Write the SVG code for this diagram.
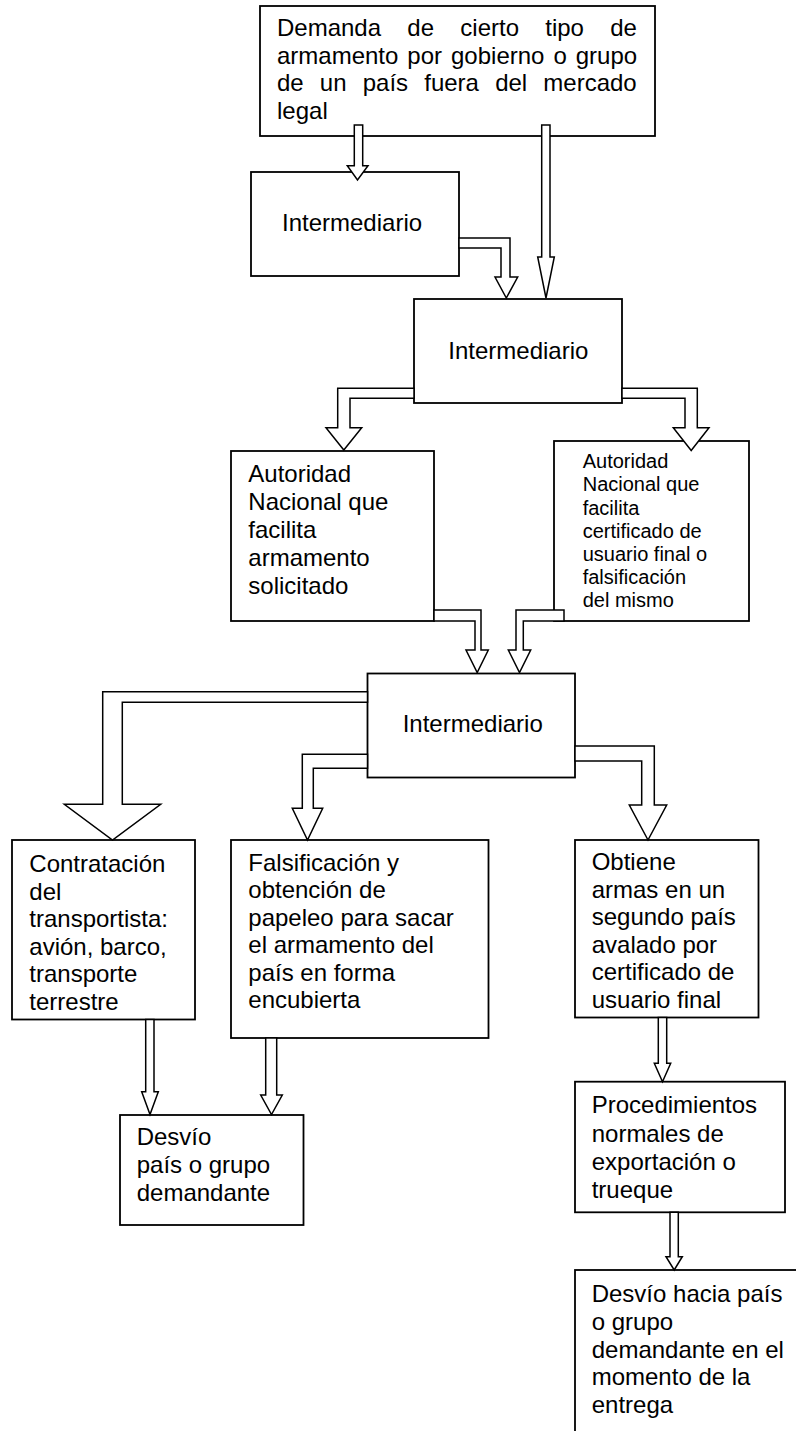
<svg xmlns="http://www.w3.org/2000/svg" width="796" height="1431" viewBox="0 0 796 1431">
<style>
.box{fill:#fff;stroke:#000;stroke-width:1.8}
.arr{fill:#fff;stroke:#000;stroke-width:1.5;stroke-linejoin:miter}
.t{font-family:"Liberation Sans",Arial,sans-serif;font-size:24px;fill:#000}
.ts{font-size:20px}
</style>
<rect width="796" height="1431" fill="#fff"/>
<g id="n-demanda">
<rect class="box" x="260" y="6" width="395" height="130"/>
<text class="t" x="277" y="36" word-spacing="19.6">Demanda de cierto tipo de</text>
<text class="t" x="277" y="63.5" word-spacing="2.3">armamento por gobierno o grupo</text>
<text class="t" x="277" y="91" word-spacing="9.5">de un país fuera del mercado</text>
<text class="t" x="277" y="118.5">legal</text>
</g>
<g id="n-intermediario1">
<rect class="box" x="251" y="172" width="208" height="104"/>
<text class="t" x="282" y="231">Intermediario</text>
</g>
<g id="n-intermediario2">
<rect class="box" x="414" y="299" width="208" height="104"/>
<text class="t" x="448.3" y="359">Intermediario</text>
</g>
<g id="n-autoridad1">
<rect class="box" x="231" y="451" width="203" height="170"/>
<text class="t"><tspan x="248.3" y="481.7">Autoridad</tspan><tspan x="248.3" y="509.8">Nacional que</tspan><tspan x="248.3" y="537.9">facilita</tspan><tspan x="248.3" y="566">armamento</tspan><tspan x="248.3" y="594.1">solicitado</tspan></text>
</g>
<g id="n-autoridad2">
<rect class="box" x="554" y="441" width="195" height="180"/>
<text class="t ts"><tspan x="582.7" y="468.3">Autoridad</tspan><tspan x="582.7" y="491.4">Nacional que</tspan><tspan x="582.7" y="514.5">facilita</tspan><tspan x="582.7" y="537.6">certificado de</tspan><tspan x="582.7" y="560.7">usuario final o</tspan><tspan x="582.7" y="583.8">falsificación</tspan><tspan x="582.7" y="606.9">del mismo</tspan></text>
</g>
<g id="n-intermediario3">
<rect class="box" x="367.5" y="673.5" width="207.5" height="104"/>
<text class="t" x="402.7" y="731.7">Intermediario</text>
</g>
<g id="n-contratacion">
<rect class="box" x="12" y="840" width="183" height="179.5"/>
<text class="t"><tspan x="29.3" y="872">Contratación</tspan><tspan x="29.3" y="899.6">del</tspan><tspan x="29.3" y="927.2">transportista:</tspan><tspan x="29.3" y="954.8">avión, barco,</tspan><tspan x="29.3" y="982.4">transporte</tspan><tspan x="29.3" y="1010">terrestre</tspan></text>
</g>
<g id="n-falsificacion">
<rect class="box" x="231" y="840" width="257.5" height="198"/>
<text class="t"><tspan x="248.3" y="870.7">Falsificación y</tspan><tspan x="248.3" y="898.2">obtención de</tspan><tspan x="248.3" y="925.7">papeleo para sacar</tspan><tspan x="248.3" y="953.2">el armamento del</tspan><tspan x="248.3" y="980.7">país en forma</tspan><tspan x="248.3" y="1008.2">encubierta</tspan></text>
</g>
<g id="n-desvio">
<rect class="box" x="120" y="1115" width="183.5" height="110"/>
<text class="t"><tspan x="136.7" y="1145">Desvío</tspan><tspan x="136.7" y="1173">país o grupo</tspan><tspan x="136.7" y="1201">demandante</tspan></text>
</g>
<g id="n-obtiene">
<rect class="box" x="575" y="840" width="183.5" height="177.5"/>
<text class="t"><tspan x="591.7" y="870">Obtiene</tspan><tspan x="591.7" y="897.5">armas en un</tspan><tspan x="591.7" y="925">segundo país</tspan><tspan x="591.7" y="952.5">avalado por</tspan><tspan x="591.7" y="980">certificado de</tspan><tspan x="591.7" y="1007.5">usuario final</tspan></text>
</g>
<g id="n-procedimientos">
<rect class="box" x="575" y="1081.7" width="210" height="130.6"/>
<text class="t"><tspan x="591.7" y="1113.3">Procedimientos</tspan><tspan x="591.7" y="1141.6">normales de</tspan><tspan x="591.7" y="1169.9">exportación o</tspan><tspan x="591.7" y="1198.2">trueque</tspan></text>
</g>
<g id="n-desvio-hacia">
<rect class="box" x="575" y="1270" width="240" height="200"/>
<text class="t"><tspan x="591.7" y="1301.7">Desvío hacia país</tspan><tspan x="591.7" y="1329.6">o grupo</tspan><tspan x="591.7" y="1357.5">demandante en el</tspan><tspan x="591.7" y="1385.4">momento de la</tspan><tspan x="591.7" y="1413.3">entrega</tspan></text>
</g>
<g id="connectors">
<polygon class="arr" points="354.3,125 362.7,125 362.7,165.7 368,165.7 357.5,180 347.3,165.7 354.3,165.7"/>
<polygon class="arr" points="541.7,125 550,125 550,257 554.3,257 546,298 537.7,257 541.7,257"/>
<polygon class="arr" points="459,238 510,238 510,277 517.7,277 506.3,298 495,277 501,277 501,248 459,248"/>
<polygon class="arr" points="414,388.3 337.7,388.3 337.7,427.7 326,427.7 343.8,450 361.7,427.7 350,427.7 350,398.3 414,398.3"/>
<polygon class="arr" points="622,388.3 697.3,388.3 697.3,427.7 709,427.7 691.2,450.5 673.3,427.7 685,427.7 685,398.3 622,398.3"/>
<polygon class="arr" points="434,610 481,610 481,650 488.3,650 477.2,672.5 466,650 475,650 475,621 434,621"/>
<polygon class="arr" points="564,610 516,610 516,650 508.3,650 519.5,672.5 530.7,650 523.3,650 523.3,621 564,621"/>
<polygon class="arr" points="367.5,691.7 102.7,691.7 102.7,804.3 64.3,804.3 112.5,840 160.7,804.3 122.3,804.3 122.3,702.3 367.5,702.3"/>
<polygon class="arr" points="367.5,754.3 302.3,754.3 302.3,808.3 292.3,808.3 307.5,840 322.7,808.3 313.3,808.3 313.3,768.3 367.5,768.3"/>
<polygon class="arr" points="575,746 654.3,746 654.3,805 666.7,805 648,840 629.3,805 641.7,805 641.7,761 575,761"/>
<polygon class="arr" points="145.7,1019.5 154,1019.5 154,1091.7 158.3,1091.7 150,1114.5 141.7,1091.7 145.7,1091.7"/>
<polygon class="arr" points="265.7,1038 276.7,1038 276.7,1095 282.3,1095 271.5,1114.5 260.7,1095 265.7,1095"/>
<polygon class="arr" points="658.3,1017.5 666.7,1017.5 666.7,1063.3 670.7,1063.3 662.5,1081.7 654.3,1063.3 658.3,1063.3"/>
<polygon class="arr" points="670,1212.3 678.3,1212.3 678.3,1256.7 682.3,1256.7 674.2,1270 666,1256.7 670,1256.7"/>
</g>
</svg>
